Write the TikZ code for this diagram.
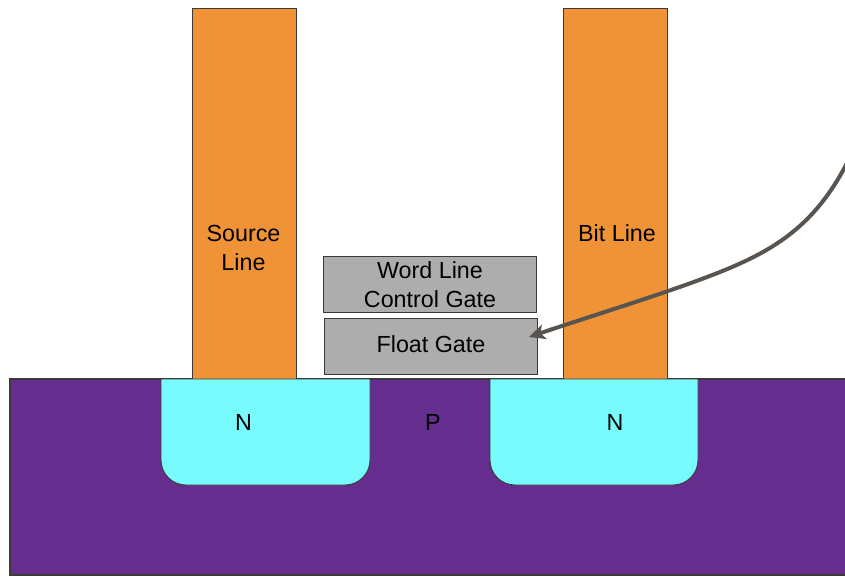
\documentclass[tikz,border=0pt]{standalone}
\usepackage{fontspec}
\setmainfont{Liberation Sans}
\usetikzlibrary{arrows.meta}
\definecolor{orangeb}{HTML}{F09336}
\definecolor{purp}{HTML}{652D8D}
\definecolor{cyanb}{HTML}{78FBFD}
\definecolor{grayb}{HTML}{ADADAD}
\definecolor{edge}{HTML}{3C3A36}
\definecolor{arrowc}{HTML}{595450}
\tikzset{
 x=1pt,y=-1pt,
 lineb/.style={draw=edge,line width=1.2pt,fill=orangeb,inner sep=0pt,minimum width=104pt,anchor=north west},
 gateb/.style={draw=edge,line width=1.2pt,fill=grayb,inner sep=0pt,anchor=north west},
 wellb/.style={draw=edge,line width=0.9pt,fill=cyanb},
 lab/.style={font=\fontsize{23.3}{29}\selectfont,text=black,inner sep=0pt,align=center}
}
\begin{document}
\begin{tikzpicture}
\useasboundingbox (0,0) rectangle (845,576);
\path[draw=edge,line width=1.2pt,fill=purp] (10,379) -- (846,379) -- (846,575) -- (10,575) -- cycle;
\node[lineb,minimum height=371pt] (src) at (192,8) {};
\node[lineb,minimum height=371pt] (bit) at (563,8) {};
\node[lab] (srct) at (243.5,248) {Source\\Line};
\node[lab] (bitt) at (617,233) {Bit Line};
\path[wellb] (161,379) -- (161,460) arc[start angle=180,end angle=90,radius=25] -- (345,485) arc[start angle=90,end angle=0,radius=25] -- (370,379) -- cycle;
\path[wellb] (490,379) -- (490,460) arc[start angle=180,end angle=90,radius=25] -- (673,485) arc[start angle=90,end angle=0,radius=25] -- (698,379) -- cycle;
\node[lab] (n1) at (243.5,422) {N};
\node[lab] (n2) at (615,422) {N};
\node[lab] (p) at (433,422) {P};
\node[gateb,minimum width=213pt,minimum height=56pt] (wl) at (323,256) {};
\node[gateb,minimum width=213pt,minimum height=56pt] (fg) at (324,318) {};
\node[lab] (wlt) at (430,284.5) {Word Line\\Control Gate};
\node[lab] (fgt) at (431,344) {Float Gate};
\coordinate (far) at (847,163);
\coordinate (tip) at (529,337);
\draw[arrowc,line width=4pt,-{Stealth[length=16pt,width=15pt,inset=4pt]}] (far) .. controls (815,225) and (775,250) .. (720,272) .. controls (670,292) and (600,313) .. (tip);
\end{tikzpicture}
\end{document}
